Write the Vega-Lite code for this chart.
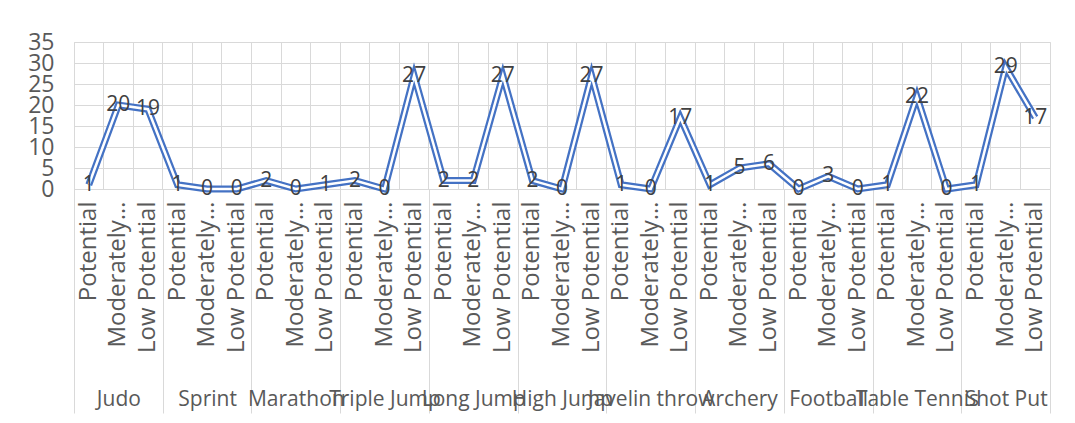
{
  "$schema": "https://vega.github.io/schema/vega-lite/v6.json",
  "width": 976,
  "height": 147,
  "autosize": {"type": "none"},
  "padding": {"left": 74, "top": 42, "right": 25, "bottom": 234},
  "background": "white",
  "config": {
    "view": {"stroke": "#d9d9d9", "strokeWidth": 1},
    "font": "Open Sans"
  },
  "data": {
    "values": [
      {"sport": "Judo", "level": "Potential", "count": 1},
      {"sport": "Judo", "level": "Moderately Potential", "count": 20},
      {"sport": "Judo", "level": "Low Potential", "count": 19},
      {"sport": "Sprint", "level": "Potential", "count": 1},
      {"sport": "Sprint", "level": "Moderately Potential", "count": 0},
      {"sport": "Sprint", "level": "Low Potential", "count": 0},
      {"sport": "Marathon", "level": "Potential", "count": 2},
      {"sport": "Marathon", "level": "Moderately Potential", "count": 0},
      {"sport": "Marathon", "level": "Low Potential", "count": 1},
      {"sport": "Triple Jump", "level": "Potential", "count": 2},
      {"sport": "Triple Jump", "level": "Moderately Potential", "count": 0},
      {"sport": "Triple Jump", "level": "Low Potential", "count": 27},
      {"sport": "Long Jump", "level": "Potential", "count": 2},
      {"sport": "Long Jump", "level": "Moderately Potential", "count": 2},
      {"sport": "Long Jump", "level": "Low Potential", "count": 27},
      {"sport": "High Jump", "level": "Potential", "count": 2},
      {"sport": "High Jump", "level": "Moderately Potential", "count": 0},
      {"sport": "High Jump", "level": "Low Potential", "count": 27},
      {"sport": "Javelin throw", "level": "Potential", "count": 1},
      {"sport": "Javelin throw", "level": "Moderately Potential", "count": 0},
      {"sport": "Javelin throw", "level": "Low Potential", "count": 17},
      {"sport": "Archery", "level": "Potential", "count": 1},
      {"sport": "Archery", "level": "Moderately Potential", "count": 5},
      {"sport": "Archery", "level": "Low Potential", "count": 6},
      {"sport": "Football", "level": "Potential", "count": 0},
      {"sport": "Football", "level": "Moderately Potential", "count": 3},
      {"sport": "Football", "level": "Low Potential", "count": 0},
      {"sport": "Table Tennis", "level": "Potential", "count": 1},
      {"sport": "Table Tennis", "level": "Moderately Potential", "count": 22},
      {"sport": "Table Tennis", "level": "Low Potential", "count": 0},
      {"sport": "Shot Put", "level": "Potential", "count": 1},
      {"sport": "Shot Put", "level": "Moderately Potential", "count": 29},
      {"sport": "Shot Put", "level": "Low Potential", "count": 17}
    ]
  },
  "transform": [{"calculate": "datum.sport + '|' + datum.level", "as": "key"}],
  "layer": [
    {
      "mark": {"type": "line", "color": "#4472C4", "strokeWidth": 7, "strokeJoin": "miter", "strokeMiterLimit": 10},
      "encoding": {
        "x": {
          "field": "key", "type": "nominal", "sort": null,
          "scale": {"type": "band", "paddingInner": 0, "paddingOuter": 0},
          "axis": {
            "orient": "bottom", "title": null,
            "domain": true, "domainColor": "#d9d9d9", "domainWidth": 1,
            "ticks": false, "grid": true, "gridColor": "#d9d9d9", "gridWidth": 1, "bandPosition": 0,
            "labelAngle": 270, "labelAlign": "right", "labelBaseline": "middle",
            "labelPadding": 12, "labelFontSize": 24, "labelColor": "#595959",
            "labelOverlap": false, "labelLimit": 300, "labelFont": "Open Sans",
            "labelExpr": "split(datum.label, '|')[1] == 'Moderately Potential' ? 'Moderately…' : split(datum.label, '|')[1]"
          }
        },
        "y": {
          "field": "count", "type": "quantitative",
          "scale": {"domain": [0, 35], "nice": false},
          "axis": {
            "orient": "left", "title": null, "values": [0, 5, 10, 15, 20, 25, 30, 35],
            "domain": false, "ticks": false, "grid": true, "gridColor": "#d9d9d9", "gridWidth": 1,
            "labelFontSize": 23, "labelColor": "#595959", "labelPadding": 20, "labelFont": "Open Sans",
            "labelBaseline": "middle", "labelOverlap": false, "labelLineHeight": 23
          }
        }
      }
    },
    {
      "mark": {"type": "line", "color": "#ffffff", "strokeWidth": 2.5, "strokeJoin": "miter", "strokeMiterLimit": 10},
      "encoding": {
        "x": {"field": "key", "type": "nominal", "sort": null, "scale": {"type": "band", "paddingInner": 0, "paddingOuter": 0}, "axis": null},
        "y": {"field": "count", "type": "quantitative", "scale": {"domain": [0, 35], "nice": false}, "axis": null}
      }
    },
    {
      "mark": {"type": "text", "fontSize": 21, "color": "#404040", "font": "Open Sans", "align": "center", "baseline": "middle"},
      "encoding": {
        "x": {"field": "key", "type": "nominal", "sort": null, "scale": {"type": "band", "paddingInner": 0, "paddingOuter": 0}, "axis": null},
        "y": {"field": "count", "type": "quantitative", "scale": {"domain": [0, 35], "nice": false}, "axis": null},
        "text": {"field": "count", "type": "quantitative"}
      }
    },
    {
      "mark": {"type": "point", "opacity": 0},
      "encoding": {
        "x": {
          "field": "sport", "type": "nominal", "sort": null,
          "scale": {"type": "band", "paddingInner": 0, "paddingOuter": 0},
          "axis": {
            "orient": "bottom", "title": null, "domain": false, "grid": false,
            "tickBand": "extent", "tickSize": 224, "tickColor": "#d9d9d9", "tickWidth": 1,
            "labelAngle": 0, "labelAlign": "center", "labelBaseline": "middle",
            "labelPadding": -14, "labelFontSize": 21, "labelColor": "#595959",
            "labelOverlap": false, "labelLimit": 300, "labelFont": "Open Sans"
          }
        },
        "y": {"field": "count", "type": "quantitative", "scale": {"domain": [0, 35], "nice": false}, "axis": null}
      }
    }
  ],
  "resolve": {"scale": {"x": "independent"}, "axis": {"x": "independent", "y": "independent"}}
}
